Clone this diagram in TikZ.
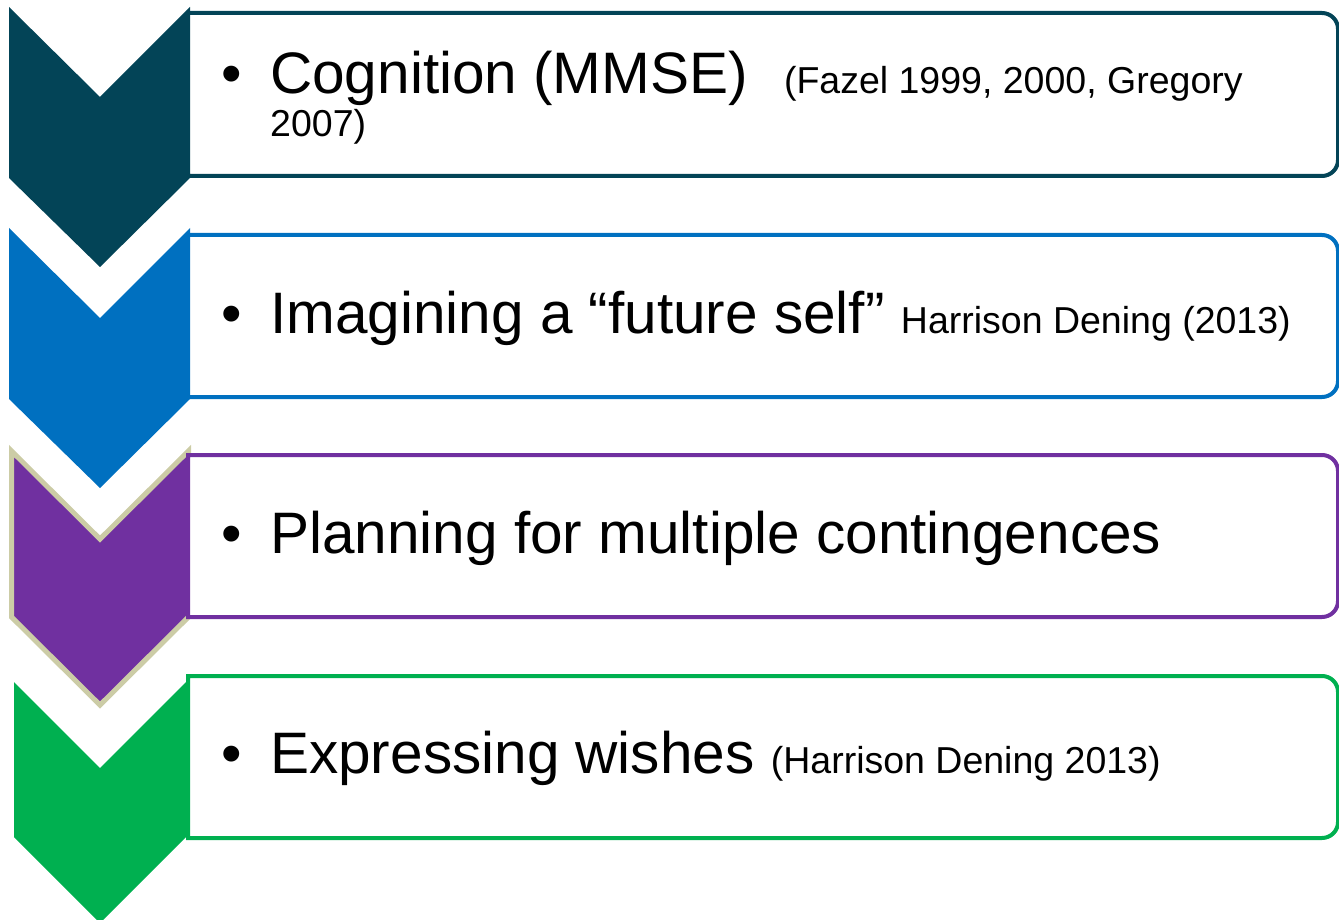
\documentclass[tikz,border=0pt]{standalone}
\usepackage{fontspec}
\setmainfont{Liberation Sans}
\definecolor{stepteal}{RGB}{3,68,87}
\definecolor{stepblue}{RGB}{0,112,192}
\definecolor{steppurple}{RGB}{112,48,160}
\definecolor{stepgreen}{RGB}{0,176,80}
\definecolor{stepkhaki}{RGB}{204,204,166}
\begin{document}
\begin{tikzpicture}[x=1pt,y=-1pt,
    box/.style={line width=4pt,fill=white},
    bullet/.style={anchor=base,inner sep=0pt,font=\fontsize{58.5}{64}\selectfont},
    item/.style={anchor=base west,inner sep=0pt,align=left,font=\fontsize{58.5}{64}\selectfont}]
  \useasboundingbox (0,0) rectangle (1339,920);
  % chevrons
  \fill[stepteal] (9,7) -- (100,97) -- (190,7) -- (190,178) -- (100,267) -- (9,178) -- cycle;
  \fill[stepblue] (9,228) -- (100,318) -- (190,228) -- (190,399) -- (100,488) -- (9,399) -- cycle;
  \filldraw[fill=steppurple,draw=stepkhaki,line width=5pt]
    (11.5,451) -- (100,539) -- (188.5,451) -- (188.5,617) -- (100,705) -- (11.5,617) -- cycle;
  \fill[stepgreen] (14,682) -- (100,768) -- (186,682) -- (186,837) -- (100,923) -- (14,837) -- cycle;
  % boxes, rounded on the right only
  \draw[box,draw=stepteal] (188,13) -- (1322,13) arc[start angle=-90,end angle=0,radius=16]
    -- (1338,160) arc[start angle=0,end angle=90,radius=16] -- (188,176) -- cycle;
  \draw[box,draw=stepblue] (188,235) -- (1322,235) arc[start angle=-90,end angle=0,radius=16]
    -- (1338,381) arc[start angle=0,end angle=90,radius=16] -- (188,397) -- cycle;
  \draw[box,draw=steppurple] (188,455) -- (1322,455) arc[start angle=-90,end angle=0,radius=16]
    -- (1338,601) arc[start angle=0,end angle=90,radius=16] -- (188,617) -- cycle;
  \draw[box,draw=stepgreen] (188,676) -- (1322,676) arc[start angle=-90,end angle=0,radius=16]
    -- (1338,822) arc[start angle=0,end angle=90,radius=16] -- (188,838) -- cycle;
  % bullets
  \node[bullet] (b1) at (232,94) {•};
  \node[bullet] (b2) at (232,333) {•};
  \node[bullet] (b3) at (232,553) {•};
  \node[bullet] (b4) at (232,773) {•};
  % items (a two-line node sits on its last baseline)
  \node[item] (cognition) at (270,137)
    {Cognition (MMSE)\hspace{36pt}{\fontsize{37.5}{43}\selectfont(Fazel 1999, 2000, Gregory}\\[-21pt]
     {\fontsize{37.5}{43}\selectfont 2007)}};
  \node[item] (future) at (270,333)
    {Imagining a “future self” {\fontsize{37.5}{43}\selectfont Harrison Dening (2013)}};
  \node[item] (planning) at (270,553) {Planning for multiple contingences};
  \node[item] (wishes) at (270,773)
    {Expressing wishes {\fontsize{37.5}{43}\selectfont(Harrison Dening 2013)}};
\end{tikzpicture}
\end{document}
